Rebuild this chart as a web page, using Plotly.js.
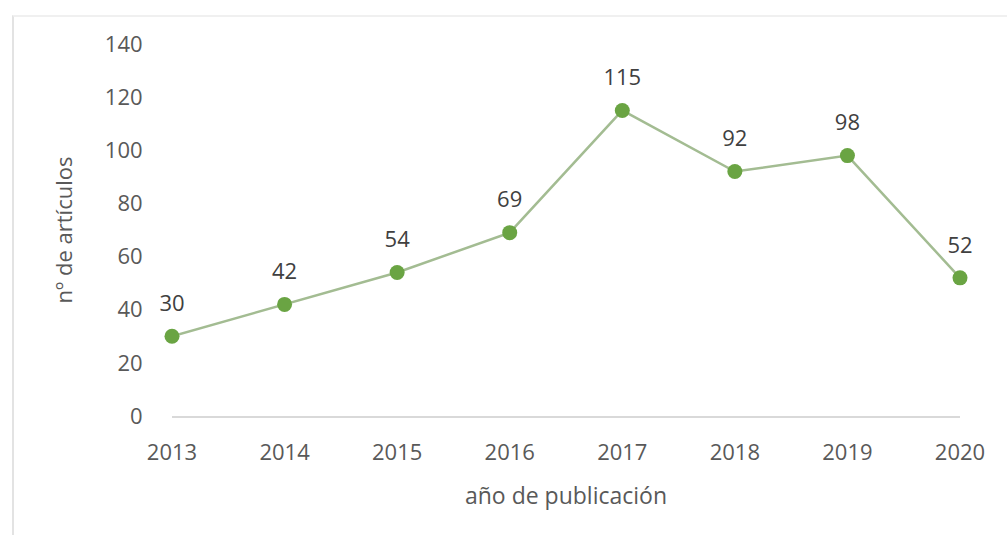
<!DOCTYPE html>
<html>
<head>
<meta charset="utf-8">
<script src="https://cdn.plot.ly/plotly-3.0.1.min.js"></script>
<style>
  html, body { margin: 0; padding: 0; background: #fff; }
  #frame { position: absolute; left: 12px; top: 15px; width: 995px; height: 520px;
           border-left: 2px solid #e3e3e3; border-top: 2px solid #f0f0f0; }
  #chart { position: absolute; left: 0; top: 0; width: 1007px; height: 535px; }
</style>
</head>
<body>
<div id="frame"></div>
<div id="chart"></div>
<script>
const years = ['2013', '2014', '2015', '2016', '2017', '2018', '2019', '2020'];
const articles = [30, 42, 54, 69, 115, 92, 98, 52];
const yTicks = [0, 20, 40, 60, 80, 100, 120, 140];

const FONT = 'Open Sans, sans-serif';

const lineTrace = {
  x: years,
  y: articles,
  type: 'scatter',
  mode: 'lines+markers',
  line: { color: '#a3bc92', width: 2.5 },
  marker: { color: '#6aa443', size: 15 },
  cliponaxis: false,
  hoverinfo: 'skip'
};

const labelTrace = {
  x: years,
  y: articles,
  type: 'scatter',
  mode: 'markers+text',
  text: articles.map(String),
  textposition: 'top center',
  textfont: { family: FONT, size: 22, color: '#404040' },
  marker: { size: 30, opacity: 0 },
  cliponaxis: false,
  hoverinfo: 'skip'
};

const layout = {
  width: 1007, height: 535,
  margin: { l: 172, r: 47, t: 44, b: 119 },
  paper_bgcolor: 'rgba(0,0,0,0)', plot_bgcolor: 'rgba(0,0,0,0)',
  showlegend: false,
  xaxis: {
    type: 'category', range: [0, 7],
    showgrid: false, zeroline: false,
    showline: true, linecolor: '#d9d9d9', linewidth: 2,
    ticks: 'outside', ticklen: 16, tickcolor: 'rgba(0,0,0,0)',
    tickfont: { family: FONT, size: 22, color: '#595959' },
    title: { text: 'año de publicación', standoff: 22,
             font: { family: FONT, size: 23, color: '#595959' } }
  },
  yaxis: {
    range: [0, 140], tickvals: yTicks, ticktext: yTicks.map(String),
    showgrid: false, zeroline: false, showline: false,
    ticks: 'outside', ticklen: 24, tickcolor: 'rgba(0,0,0,0)',
    tickfont: { family: FONT, size: 22, color: '#595959' },
    title: { text: 'nº de artículos', standoff: 26,
             font: { family: FONT, size: 22, color: '#595959' } }
  }
};

Plotly.newPlot('chart', [lineTrace, labelTrace], layout, { displayModeBar: false, staticPlot: true });
</script>
</body>
</html>
